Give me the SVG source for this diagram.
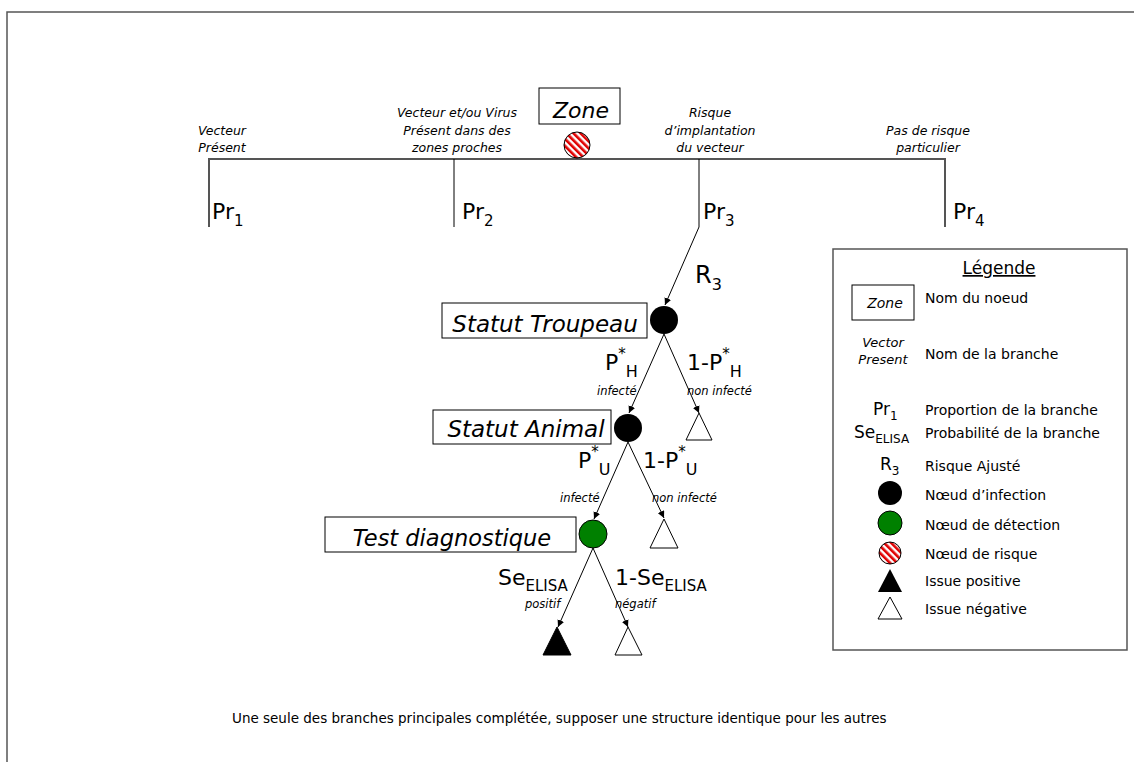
<svg xmlns="http://www.w3.org/2000/svg" width="1134" height="762" viewBox="0 0 1134 762">
<style>
text{font-family:"DejaVu Sans","Liberation Sans",sans-serif;fill:#000}
.it{font-style:italic}
.br{font-size:12.5px;font-style:italic;text-anchor:middle}
.big{font-size:22px}
.sm{font-size:11.5px;font-style:italic}
.nodebox{fill:#fff;stroke:#000;stroke-width:1}
.lg{font-size:14px}
.thin{stroke:#000;stroke-width:1;fill:none}
.thick{stroke:#555;stroke-width:2;fill:none}
</style>
<defs>
<pattern id="hatch" width="5" height="5" patternUnits="userSpaceOnUse" patternTransform="rotate(-45)">
<rect width="5" height="5" fill="#fff"/>
<rect width="2.6" height="5" fill="#e00000"/>
</pattern>
<marker id="arr" viewBox="0 0 8 8" refX="8" refY="4" markerWidth="7" markerHeight="7" markerUnits="userSpaceOnUse" orient="auto">
<path d="M0,0 L8,4 L0,8 z" fill="#000"/>
</marker>
</defs>
<rect width="1134" height="762" fill="#fff"/>
<path d="M7,762 V12 H1134" fill="none" stroke="#555" stroke-width="1.5"/>

<g id="connectors">
<path class="thick" d="M209,227 V159 H945 V227"/>
<line class="thin" x1="454" y1="159" x2="454" y2="227"/>
<line class="thin" x1="699" y1="159" x2="699" y2="227"/>
<line class="thin" x1="699" y1="227" x2="665" y2="305" marker-end="url(#arr)"/>
<line class="thin" x1="664" y1="334" x2="629" y2="413" marker-end="url(#arr)"/>
<line class="thin" x1="664" y1="334" x2="699" y2="413" marker-end="url(#arr)"/>
<line class="thin" x1="628" y1="442" x2="594" y2="519" marker-end="url(#arr)"/>
<line class="thin" x1="628" y1="442" x2="664" y2="518" marker-end="url(#arr)"/>
<line class="thin" x1="593" y1="548" x2="558" y2="627" marker-end="url(#arr)"/>
<line class="thin" x1="593" y1="548" x2="628" y2="627" marker-end="url(#arr)"/>
</g>

<g id="branch-labels">
<text class="br" x="222" y="135">Vecteur</text>
<text class="br" x="222" y="152">Présent</text>
<text class="br" x="457" y="117">Vecteur et/ou Virus</text>
<text class="br" x="457" y="135">Présent dans des</text>
<text class="br" x="457" y="152">zones proches</text>
<text class="br" x="710" y="117">Risque</text>
<text class="br" x="710" y="135">d’implantation</text>
<text class="br" x="710" y="152">du vecteur</text>
<text class="br" x="928" y="135">Pas de risque</text>
<text class="br" x="928" y="152">particulier</text>
<text class="big" x="212" y="219">Pr<tspan font-size="15" dy="7">1</tspan></text>
<text class="big" x="462" y="219">Pr<tspan font-size="15" dy="7">2</tspan></text>
<text class="big" x="703" y="219">Pr<tspan font-size="15" dy="7">3</tspan></text>
<text class="big" x="953" y="219">Pr<tspan font-size="15" dy="7">4</tspan></text>
<text x="695" y="283" font-size="24">R<tspan font-size="16" dy="7">3</tspan></text>
<text class="big" x="605" y="370">P<tspan font-size="15" dy="-11">*</tspan><tspan font-size="16" dy="18">H</tspan></text>
<text class="big" x="687" y="370">1-P<tspan font-size="15" dy="-11">*</tspan><tspan font-size="16" dy="18">H</tspan></text>
<text class="sm" x="597" y="395">infecté</text>
<text class="sm" x="687" y="395">non infecté</text>
<text class="big" x="578" y="468">P<tspan font-size="15" dy="-11">*</tspan><tspan font-size="16" dy="18">U</tspan></text>
<text class="big" x="643" y="468">1-P<tspan font-size="15" dy="-11">*</tspan><tspan font-size="16" dy="18">U</tspan></text>
<text class="sm" x="560" y="502">infecté</text>
<text class="sm" x="652" y="502">non infecté</text>
<text class="big" x="498" y="585">Se<tspan font-size="15" dy="6">ELISA</tspan></text>
<text class="big" x="615" y="585">1-Se<tspan font-size="15" dy="6">ELISA</tspan></text>
<text class="sm" x="525" y="608">positif</text>
<text class="sm" x="615" y="608">négatif</text>
</g>

<g id="zone">
<rect class="nodebox" x="539" y="88" width="81" height="36"/>
<text class="it" x="581" y="118" font-size="22" text-anchor="middle">Zone</text>
<circle cx="577" cy="145" r="13" fill="url(#hatch)" stroke="#000" stroke-width="1"/>
</g>

<g id="statut-troupeau">
<rect class="nodebox" x="442" y="303" width="205" height="35"/>
<text class="it" x="545" y="332" font-size="23" text-anchor="middle">Statut Troupeau</text>
<circle cx="664" cy="320" r="14" fill="#000"/>
</g>

<g id="statut-animal">
<rect class="nodebox" x="433" y="410" width="178" height="34"/>
<text class="it" x="526" y="437" font-size="23" text-anchor="middle">Statut Animal</text>
<circle cx="628" cy="428" r="14" fill="#000"/>
</g>

<g id="test-diagnostique">
<rect class="nodebox" x="325" y="517" width="251" height="35"/>
<text class="it" x="452" y="546" font-size="22.5" text-anchor="middle">Test diagnostique</text>
<circle cx="593" cy="534" r="14" fill="#008000" stroke="#000" stroke-width="1"/>
</g>

<g id="outcome-troupeau-neg">
<polygon points="699,413 686,440 712,440" fill="#fff" stroke="#000" stroke-width="1"/>
</g>
<g id="outcome-animal-neg">
<polygon points="664,519 650,548 678,548" fill="#fff" stroke="#000" stroke-width="1"/>
</g>
<g id="outcome-test-pos">
<polygon points="557,627 543,655 571,655" fill="#000" stroke="#000" stroke-width="1"/>
</g>
<g id="outcome-test-neg">
<polygon points="628,627 615,655 642,655" fill="#fff" stroke="#000" stroke-width="1"/>
</g>

<g id="legend">
<rect x="833" y="249" width="294" height="401" fill="#fff" stroke="#555" stroke-width="1.5"/>
<text x="999" y="274" font-size="17" text-anchor="middle" text-decoration="underline">Légende</text>
<rect class="nodebox" x="852" y="285" width="62" height="35"/>
<text class="it" x="885" y="308" font-size="14" text-anchor="middle">Zone</text>
<text class="lg" x="925" y="303">Nom du noeud</text>
<text class="it" x="883" y="347" font-size="13" text-anchor="middle">Vector</text>
<text class="it" x="883" y="364" font-size="13" text-anchor="middle">Present</text>
<text class="lg" x="925" y="359">Nom de la branche</text>
<text x="873" y="415" font-size="17">Pr<tspan font-size="12" dy="5">1</tspan></text>
<text class="lg" x="925" y="415">Proportion de la branche</text>
<text x="854" y="438" font-size="17">Se<tspan font-size="12" dy="5">ELISA</tspan></text>
<text class="lg" x="925" y="438">Probabilité de la branche</text>
<text x="880" y="470" font-size="17">R<tspan font-size="12" dy="5">3</tspan></text>
<text class="lg" x="925" y="471">Risque Ajusté</text>
<circle cx="890" cy="493" r="12" fill="#000"/>
<text class="lg" x="925" y="500">Nœud d’infection</text>
<circle cx="890" cy="523" r="12" fill="#008000" stroke="#000" stroke-width="1"/>
<text class="lg" x="925" y="530">Nœud de détection</text>
<circle cx="890" cy="553" r="11" fill="url(#hatch)" stroke="#000" stroke-width="1"/>
<text class="lg" x="925" y="559">Nœud de risque</text>
<polygon points="890,569 878,592 902,592" fill="#000"/>
<text class="lg" x="925" y="586">Issue positive</text>
<polygon points="890,597 878,619 902,619" fill="#fff" stroke="#000" stroke-width="1"/>
<text class="lg" x="925" y="614">Issue négative</text>
</g>

<text x="232" y="723" font-size="13.5">Une seule des branches principales complétée, supposer une structure identique pour les autres</text>
</svg>
